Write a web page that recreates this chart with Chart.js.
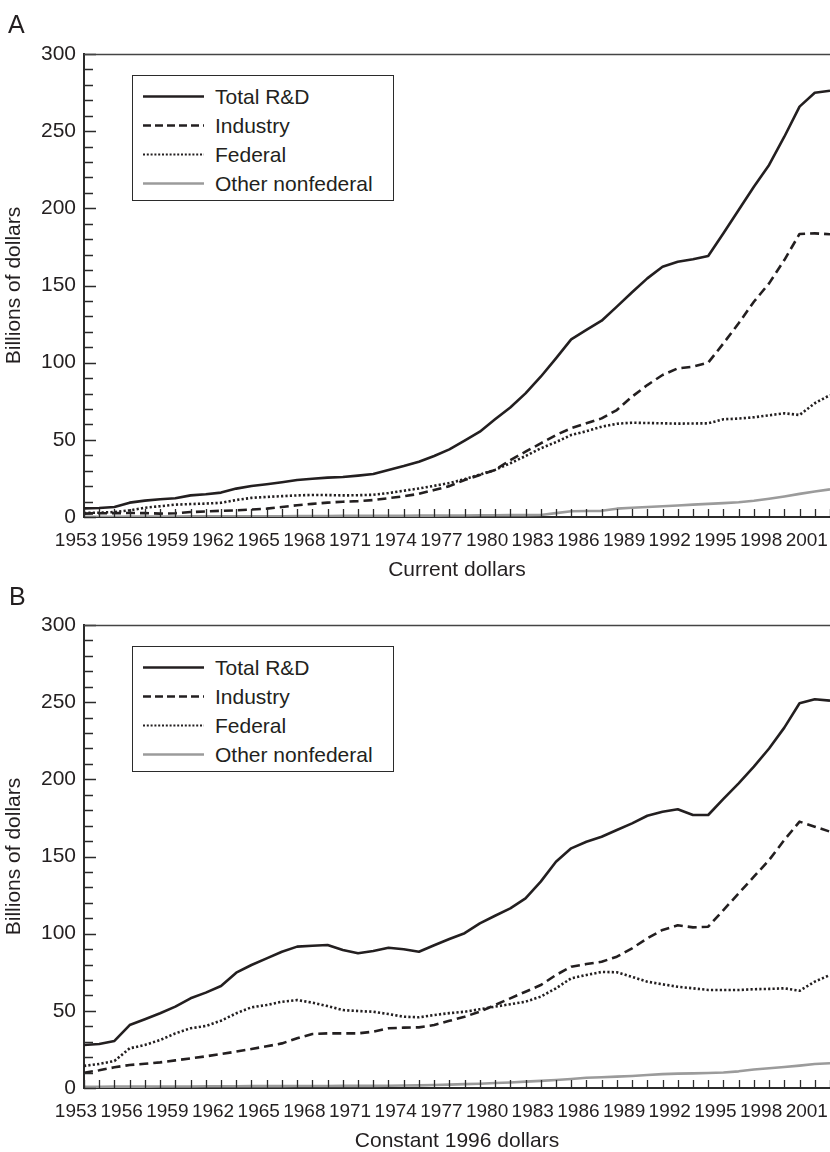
<!DOCTYPE html>
<html>
<head>
<meta charset="utf-8">
<script src="https://cdn.jsdelivr.net/npm/chart.js@4.4.1/dist/chart.umd.min.js"></script>
<style>
  html, body { margin:0; padding:0; background:#fff; overflow:hidden; width:830px; height:1152px; }
  body { position:relative; font-family:"Liberation Sans", Arial, Helvetica, sans-serif; color:#231f20; }
  .wrap { position:absolute; left:0; width:830px; height:590px; }
  .plabel { position:absolute; font-size:25px; line-height:25px; }
  .legend { position:absolute; width:260px; height:124px; border:1.5px solid #2b2b2b; background:#fff; }
  .row { position:absolute; left:0; height:29px; line-height:29px; font-size:21px; white-space:nowrap; }
  .row svg { position:absolute; left:9px; top:0; }
  .row span { position:absolute; left:82px; top:0; }
</style>
</head>
<body>
<div class="wrap" style="top:0px"><canvas id="chartA" width="830" height="590"></canvas></div>
<div class="wrap" style="top:571px"><canvas id="chartB" width="830" height="590"></canvas></div>
<div class="plabel" style="left:8px;top:12px">A</div>
<div class="plabel" style="left:9px;top:584px">B</div>
<div class="legend" id="legA" style="left:132px;top:75px"></div>
<div class="legend" id="legB" style="left:132px;top:646px"></div>
<script>
// ---------- data ----------
const years = [1953,1954,1955,1956,1957,1958,1959,1960,1961,1962,1963,1964,1965,1966,1967,1968,1969,1970,1971,1972,
  1973,1974,1975,1976,1977,1978,1979,1980,1981,1982,1983,1984,1985,1986,1987,1988,1989,1990,1991,1992,
  1993,1994,1995,1996,1997,1998,1999,2000,2001,2002];
const xLabelYears = [1953,1956,1959,1962,1965,1968,1971,1974,1977,1980,1983,1986,1989,1992,1995,1998,2001];
const yTickValues = [0,10,20,30,40,50,60,70,80,90,100,110,120,130,140,150,160,170,180,190,200,
  210,220,230,240,250,260,270,280,290,300];
const seriesNames = ["Total R&D", "Industry", "Federal", "Other nonfederal"];

// Panel A: current dollars (billions)
const totalA = [5.6,5.8,6.5,9.3,10.6,11.5,12.1,14.0,14.7,15.8,18.4,20.1,21.2,22.5,24.0,24.8,25.5,25.9,26.8,27.9,
  30.5,33.0,35.8,39.5,43.8,49.5,55.3,63.3,71.0,80.1,90.9,102.8,115.1,121.2,127.2,136.3,145.6,154.6,162.2,165.4,
  167.0,169.1,183.8,198.9,214.0,228.1,246.4,265.9,274.9,276.2];
const industryA = [2.2,2.4,2.5,2.6,2.5,2.2,2.4,3.2,3.6,4.0,4.3,4.8,5.4,6.5,7.6,8.5,9.3,9.9,10.3,11.0,
  12.2,13.4,15.0,17.5,20.0,24.0,27.2,30.5,36.9,42.3,47.7,53.1,57.5,60.7,63.9,69.3,78.0,85.5,92.0,96.3,
  97.4,100.0,112.5,125.5,139.5,151.4,166.5,183.4,183.8,183.2];
const federalA = [2.6,2.8,3.2,4.3,6.0,7.0,8.0,8.4,8.7,9.2,11.0,12.4,13.0,13.5,14.0,14.3,14.2,14.0,14.1,14.4,
  15.5,17.0,18.5,20.2,22.0,24.5,27.5,30.5,34.8,39.5,44.5,48.5,53.1,55.6,58.5,60.4,61.1,60.9,60.7,60.5,
  60.6,60.7,63.3,63.8,64.6,65.9,67.2,66.1,73.7,79.0];
const otherA = [0.2,0.2,0.2,0.3,0.3,0.3,0.3,0.4,0.4,0.4,0.4,0.5,0.5,0.5,0.6,0.6,0.6,0.7,0.7,0.7,
  0.8,0.8,0.9,0.9,1.0,1.0,1.1,1.1,1.2,1.2,1.3,2.5,3.7,3.9,4.0,5.4,6.0,6.5,7.0,7.5,
  8.0,8.5,9.0,9.6,10.5,11.8,13.3,15.0,16.5,17.9];

// Panel B: constant 1996 dollars (billions)
const totalB = [27.9,28.5,30.5,40.8,44.5,48.4,52.7,58.1,61.8,66.1,74.7,79.7,84.0,88.3,91.6,92.2,92.7,89.4,87.3,88.8,
  90.9,89.9,88.3,92.5,96.5,100.3,106.7,111.6,116.4,122.9,133.7,146.6,155.3,159.6,162.8,167.2,171.5,176.4,179.0,180.6,
  176.9,176.9,187.3,197.4,208.2,220.0,233.5,249.3,251.9,251.0];
const industryB = [9.9,11.5,13.4,14.9,15.7,16.6,17.9,19.2,20.5,22.0,23.6,25.3,27.0,28.9,32.2,35.0,35.4,35.4,35.4,36.5,
  38.7,39.1,39.3,40.8,43.5,46.2,49.4,53.8,58.1,62.4,66.7,73.2,78.6,80.3,81.8,85.1,90.5,97.0,102.4,105.4,
  104.1,104.5,115.3,126.1,136.9,147.7,160.7,172.6,169.3,166.1];
const federalB = [14.3,15.6,17.5,25.7,27.9,31.1,35.4,38.7,40.2,43.6,48.4,52.3,53.8,55.9,57.0,55.3,53.1,50.5,49.9,49.4,
  47.9,46.2,45.8,47.3,48.5,49.4,51.0,52.7,54.3,55.9,59.2,64.6,71.1,73.2,75.2,75.0,72.0,68.9,67.2,65.6,
  64.6,63.5,63.5,63.5,64.0,64.2,64.6,63.0,68.9,73.2];
const otherB = [0.8,0.8,0.9,0.9,0.9,1.0,1.0,1.0,1.1,1.1,1.1,1.2,1.2,1.2,1.3,1.3,1.3,1.4,1.4,1.4,
  1.5,1.6,1.7,1.9,2.2,2.5,2.8,3.2,3.6,4.1,4.6,5.2,5.8,6.6,7.0,7.4,7.8,8.4,9.0,9.3,
  9.5,9.7,10.0,10.8,12.0,12.8,13.6,14.5,15.6,16.0];

// ---------- styling ----------
const INK = '#231f20';
const GRAY = '#9b9b9b';
const FONT = '"Liberation Sans", Arial, Helvetica, sans-serif';
const styles = [
  { color: INK, dash: [] },
  { color: INK, dash: [9, 5] },
  { color: INK, dash: [2.2, 2.2] },
  { color: GRAY, dash: [] }
];

function pts(arr) { return years.map((yr, i) => ({ x: yr, y: arr[i] })); }

const frameTicks = {
  id: 'frameTicks',
  afterDatasetsDraw(chart) {
    const { ctx, chartArea: a, scales: { x, y } } = chart;
    ctx.save();
    ctx.strokeStyle = '#2b2b2b';
    ctx.lineWidth = 1.3;
    ctx.beginPath();
    years.forEach(yr => {
      const px = Math.round(x.getPixelForValue(yr)) + 0.5;
      ctx.moveTo(px, a.bottom);
      ctx.lineTo(px, a.bottom - 8);
    });
    yTickValues.forEach(v => {
      const py = Math.round(y.getPixelForValue(v)) + 0.5;
      const len = v % 50 === 0 ? 12 : 9;
      ctx.moveTo(a.left, py);
      ctx.lineTo(a.left + len, py);
    });
    ctx.stroke();
    ctx.strokeStyle = '#444';
    ctx.lineWidth = 1.5;
    ctx.beginPath();
    ctx.moveTo(a.left, Math.round(a.top) + 0.5);
    ctx.lineTo(a.right + 2, Math.round(a.top) + 0.5);
    ctx.stroke();
    ctx.restore();
  }
};

function makeChart(id, data, xTitle) {
  const ctx = document.getElementById(id);
  return new Chart(ctx, {
    type: 'line',
    data: {
      datasets: data.map((arr, i) => ({
        label: seriesNames[i],
        data: pts(arr),
        borderColor: styles[i].color,
        borderDash: styles[i].dash,
        borderWidth: 2.6,
        pointRadius: 0,
        tension: 0,
        fill: false,
        borderCapStyle: 'butt',
        borderJoinStyle: 'round'
      }))
    },
    options: {
      responsive: false,
      animation: false,
      devicePixelRatio: 1,
      layout: { padding: { top: 54, right: 0, left: 0, bottom: 0 } },
      plugins: { legend: { display: false }, tooltip: { enabled: false } },
      scales: {
        x: {
          type: 'linear',
          min: years[0],
          max: years[years.length - 1],
          afterFit(s) { s.height = 73; s.paddingRight = 0; s.paddingLeft = 0; },
          grid: { display: false, drawTicks: false },
          border: { display: true, color: '#2b2b2b', width: 2 },
          ticks: {
            stepSize: 1,
            autoSkip: false,
            maxRotation: 0,
            padding: 12,
            labelOffset: -8,
            color: INK,
            font: { family: FONT, size: 19 },
            callback: v => xLabelYears.includes(v) ? String(v) : ''
          },
          title: {
            display: true,
            text: xTitle,
            color: INK,
            font: { family: FONT, size: 21 },
            padding: { top: 0, bottom: 7 }
          }
        },
        y: {
          min: 0,
          max: 300,
          afterFit(s) { s.width = 84; s.paddingTop = 0; s.paddingBottom = 0; },
          grid: { display: false, drawTicks: false },
          border: { display: true, color: '#2b2b2b', width: 2 },
          ticks: {
            stepSize: 50,
            padding: 8,
            color: INK,
            font: { family: FONT, size: 21 }
          },
          title: {
            display: true,
            text: 'Billions of dollars',
            color: INK,
            font: { family: FONT, size: 21 },
            padding: { top: 2, bottom: 0 }
          }
        }
      }
    },
    plugins: [frameTicks]
  });
}

makeChart('chartA', [totalA, industryA, federalA, otherA], 'Current dollars');
makeChart('chartB', [totalB, industryB, federalB, otherB], 'Constant 1996 dollars');

// ---------- legends (HTML) ----------
function buildLegend(elId) {
  const el = document.getElementById(elId);
  seriesNames.forEach((name, i) => {
    const row = document.createElement('div');
    row.className = 'row';
    row.style.top = (6 + 29 * i) + 'px';
    row.style.width = '100%';
    const st = styles[i];
    const dash = i === 1 ? '8 4' : (i === 2 ? '2 1.8' : 'none');
    const w = i === 2 ? 2 : 2.6;
    row.innerHTML = '<svg width="62" height="29"><line x1="1" y1="14.5" x2="62" y2="14.5" stroke="' + st.color +
      '" stroke-width="' + w + '" stroke-dasharray="' + dash + '"/></svg><span></span>';
    row.querySelector('span').textContent = name;
    el.appendChild(row);
  });
}
buildLegend('legA');
buildLegend('legB');
</script>
</body>
</html>
